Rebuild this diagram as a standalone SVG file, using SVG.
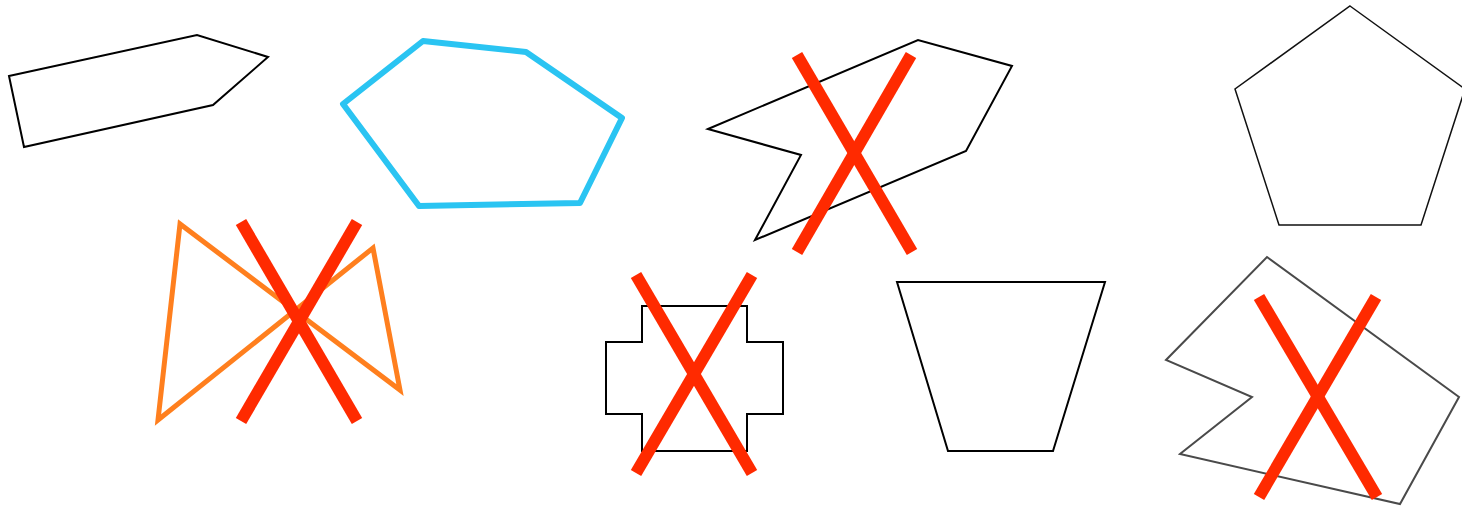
<svg xmlns="http://www.w3.org/2000/svg" width="1462" height="506" viewBox="0 0 1462 506">
<style>
.thin{fill:none;stroke:#000;stroke-width:2;stroke-linejoin:miter}
.gray{fill:none;stroke:#4a4a4a;stroke-width:2}
.cyan{fill:none;stroke:#2AC4F2;stroke-width:6;stroke-linejoin:round}
.orange{fill:none;stroke:#FF7F1E;stroke-width:5;stroke-linejoin:miter}
.penta{fill:none;stroke:#111;stroke-width:1.5}
.x line{stroke:#FF2A00;stroke-width:12;stroke-linecap:butt}
</style>
<rect width="1462" height="506" fill="#fff"/>
<g id="shape-arrow-pentagon">
<polygon class="thin" points="9,76 197,35 268,57 213,105 24,147"/>
</g>
<g id="shape-cyan-hexagon">
<polygon class="cyan" points="343,104 423,41 526,52 622,118 580,203 419,206"/>
</g>
<g id="shape-notched">
<polygon class="thin" points="708,129 918,40 1012,66 966,151 755,240 801,155"/>
<g class="x"><line x1="797" y1="55" x2="912" y2="252"/><line x1="911" y1="55" x2="797" y2="252"/></g>
</g>
<g id="shape-regular-pentagon">
<polygon class="penta" points="1350,6 1465,89 1421,225 1279,225 1235,89"/>
</g>
<g id="shape-bowtie">
<polygon class="orange" points="180,224 158,420 373,248 400,390"/>
<g class="x"><line x1="241" y1="222" x2="357" y2="421"/><line x1="357" y1="222" x2="241" y2="421"/></g>
</g>
<g id="shape-cross">
<path class="thin" d="M642,306 H747 V342 H783 V414 H747 V451 H642 V414 H606 V342 H642 Z"/>
<g class="x"><line x1="636" y1="275" x2="752" y2="473"/><line x1="752" y1="275" x2="636" y2="473"/></g>
</g>
<g id="shape-trapezoid">
<polygon class="thin" points="897,282 1105,282 1053,451 948,451"/>
</g>
<g id="shape-gray-notched">
<polygon class="gray" points="1267,257 1459,397 1400,504 1180,454 1252,397 1166,360"/>
<g class="x"><line x1="1259" y1="297" x2="1377" y2="497"/><line x1="1376" y1="297" x2="1259" y2="497"/></g>
</g>
</svg>
